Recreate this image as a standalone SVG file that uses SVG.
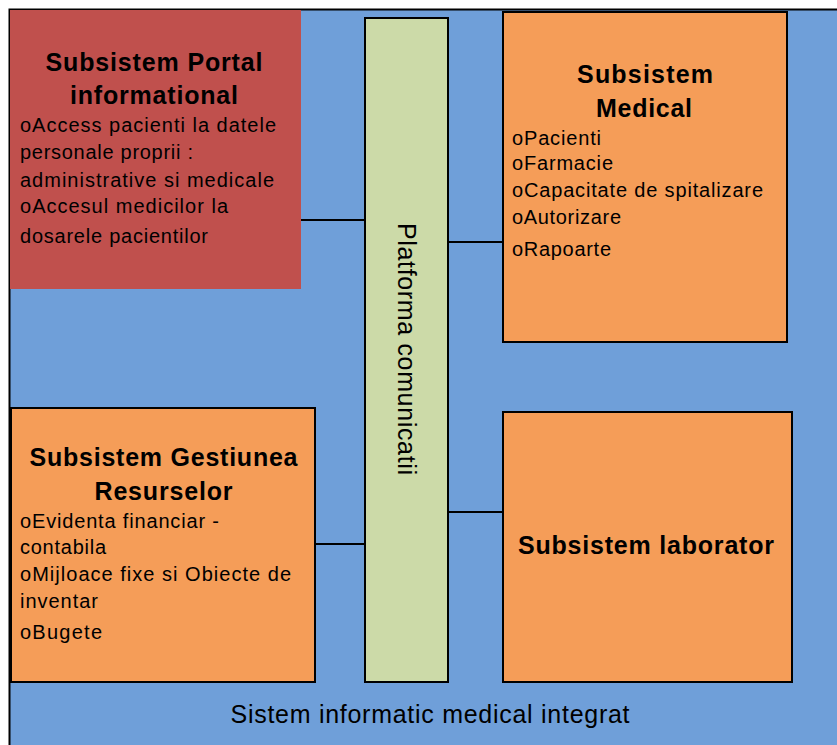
<svg xmlns="http://www.w3.org/2000/svg" width="837" height="745" viewBox="0 0 837 745">
<style>
.box{stroke:#000;stroke-width:2}
.orange{fill:#F59D58}
.title{font-family:"Liberation Sans",Arial,sans-serif;font-weight:bold;font-size:25px;fill:#000;text-anchor:middle}
.body{font-family:"Liberation Sans",Arial,sans-serif;font-size:20px;fill:#000}
.conn{stroke:#000;stroke-width:2;fill:none}
</style>
<rect x="0" y="0" width="837" height="745" fill="#fff"/>
<g id="sistem">
<rect x="9.5" y="9.5" width="840" height="750" fill="#6F9FD9" stroke="#000" stroke-width="2"/>
<text x="430" y="723" font-family="Liberation Sans, Arial, sans-serif" font-size="25" text-anchor="middle" textLength="399" lengthAdjust="spacing">Sistem informatic medical integrat</text>
</g>
<g id="connectors">
<line class="conn" x1="301" y1="220" x2="365" y2="220"/>
<line class="conn" x1="448" y1="242" x2="503" y2="242"/>
<line class="conn" x1="315" y1="544" x2="365" y2="544"/>
<line class="conn" x1="448" y1="512" x2="503" y2="512"/>
</g>
<g id="platforma">
<rect class="box" x="365" y="18" width="83" height="664" fill="#CCDAA8"/>
<text transform="translate(398,349) rotate(90)" font-family="Liberation Sans, Arial, sans-serif" font-size="25" text-anchor="middle" textLength="252" lengthAdjust="spacing">Platforma comunicatii</text>
</g>
<g id="portal">
<rect x="10" y="10" width="291" height="279" fill="#C0504D"/>
<text class="title" x="154" y="71" textLength="217" lengthAdjust="spacing">Subsistem Portal</text>
<text class="title" x="154" y="104" textLength="168" lengthAdjust="spacing">informational</text>
<text class="body" x="20" y="132" textLength="256" lengthAdjust="spacing">oAccess pacienti la datele</text>
<text class="body" x="20" y="159" textLength="173" lengthAdjust="spacing">personale proprii :</text>
<text class="body" x="20" y="187" textLength="254" lengthAdjust="spacing">administrative si medicale</text>
<text class="body" x="20" y="213" textLength="208" lengthAdjust="spacing">oAccesul medicilor la</text>
<text class="body" x="20" y="243" textLength="188" lengthAdjust="spacing">dosarele pacientilor</text>
</g>
<g id="medical">
<rect class="box orange" x="503" y="12" width="284" height="330"/>
<text class="title" x="645" y="83" textLength="136" lengthAdjust="spacing">Subsistem</text>
<text class="title" x="644" y="117" textLength="96" lengthAdjust="spacing">Medical</text>
<text class="body" x="512" y="145" textLength="89" lengthAdjust="spacing">oPacienti</text>
<text class="body" x="512" y="170" textLength="101" lengthAdjust="spacing">oFarmacie</text>
<text class="body" x="512" y="197" textLength="251" lengthAdjust="spacing">oCapacitate de spitalizare</text>
<text class="body" x="512" y="224" textLength="109" lengthAdjust="spacing">oAutorizare</text>
<text class="body" x="512" y="256" textLength="99" lengthAdjust="spacing">oRapoarte</text>
</g>
<g id="gestiunea">
<rect class="box orange" x="11" y="408" width="304" height="274"/>
<text class="title" x="163.5" y="466" textLength="268" lengthAdjust="spacing">Subsistem Gestiunea</text>
<text class="title" x="163.5" y="500" textLength="138" lengthAdjust="spacing">Resurselor</text>
<text class="body" x="20" y="528" textLength="199" lengthAdjust="spacing">oEvidenta financiar -</text>
<text class="body" x="20" y="554" textLength="86" lengthAdjust="spacing">contabila</text>
<text class="body" x="20" y="581" textLength="271" lengthAdjust="spacing">oMijloace fixe si Obiecte de</text>
<text class="body" x="20" y="608" textLength="78" lengthAdjust="spacing">inventar</text>
<text class="body" x="20" y="639" textLength="82" lengthAdjust="spacing">oBugete</text>
</g>
<g id="laborator">
<rect class="box orange" x="503" y="412" width="289" height="270"/>
<text class="title" x="646" y="554" textLength="256" lengthAdjust="spacing">Subsistem laborator</text>
</g>
</svg>
